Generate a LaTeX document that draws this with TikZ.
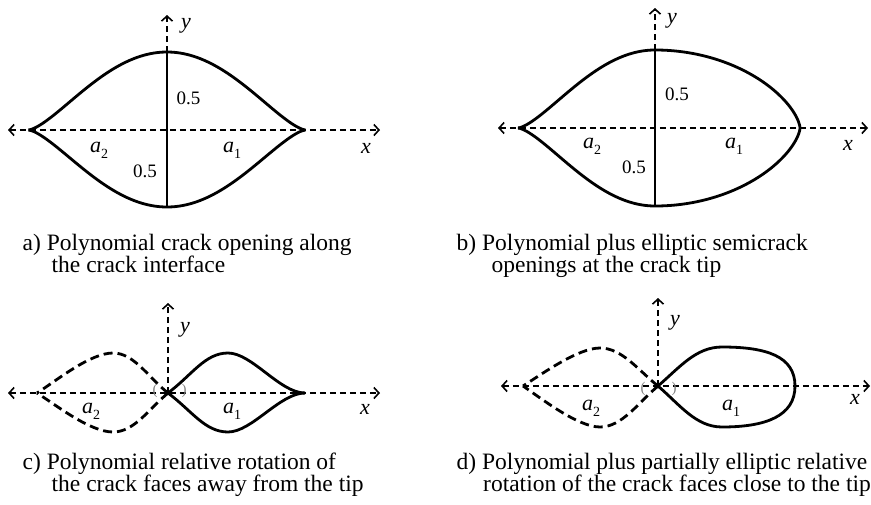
\documentclass[tikz,border=0pt]{standalone}
\usepackage{fontspec}
\setmainfont{Liberation Serif}
\usetikzlibrary{arrows.meta}
\newcommand\lblsub[2]{\textit{#1}\raisebox{-0.28em}{\fontsize{14}{14}\selectfont #2}}
\tikzset{
  axis/.style={line width=1.6pt, dash pattern=on 6.5pt off 3.5pt},
  barb/.tip={Straight Barb[length=5pt,width=11pt]},
  crack/.style={line width=2.8pt},
  crackd/.style={line width=2.8pt, dash pattern=on 9pt off 5pt},
  lbl/.style={inner sep=0pt, anchor=base west, font=\fontsize{22}{22}\selectfont},
  num/.style={inner sep=0pt, anchor=base west, font=\fontsize{19}{19}\selectfont},
  captxt/.style={inner sep=0pt, anchor=base west, font=\fontsize{23.5}{23.5}\selectfont},
  paren/.style={inner sep=0pt, text=gray, font=\fontsize{15}{15}\selectfont}
}
\begin{document}
\begin{tikzpicture}[x=1pt,y=-1pt]
\useasboundingbox (0,0) rectangle (871,504);

% ================= panel a =================
\coordinate (aL) at (8,130);
\coordinate (aR) at (380,130);
\coordinate (aTop) at (167,52);
\coordinate (aBot) at (167,207);
\coordinate (aYtip) at (167,15);
\draw[axis, barb-barb] (aL) -- (aR);
\draw[axis, -barb] (aTop) -- (aYtip);
\draw[crack] (aTop) -- (aBot);
\draw[crack] plot[domain=-1:1,samples=101,smooth] ({167+138.5*\x},{130-78*(1-\x*\x)*sqrt(abs(1-\x*\x))});
\draw[crack] plot[domain=-1:1,samples=101,smooth] ({167+138.5*\x},{130+77*(1-\x*\x)*sqrt(abs(1-\x*\x))});
\node[lbl] (ay) at (181,28) {\textit{y}};
\node[num] (a05u) at (176.5,104) {0.5};
\node[num] (a05l) at (133,177) {0.5};
\node[lbl] (aa2) at (90,152) {\lblsub{a}{2}};
\node[lbl] (aa1) at (223,152) {\lblsub{a}{1}};
\node[lbl] (ax) at (361,153) {\textit{x}};
\node[captxt] (acap1) at (22.5,250) {a) Polynomial crack opening along};
\node[captxt] (acap2) at (51.5,272.5) {the crack interface};

% ================= panel b =================
\coordinate (bL) at (498,128);
\coordinate (bR) at (868,128);
\coordinate (bTop) at (655,50);
\coordinate (bBot) at (655,206);
\coordinate (bYtip) at (655,8);
\draw[axis, barb-barb] (bL) -- (bR);
\draw[axis, -barb] (bTop) -- (bYtip);
\draw[crack] (bTop) -- (bBot);
\draw[crack] plot[domain=-1:0,samples=61,smooth] ({655+137*\x},{128-78*(1-\x*\x)*sqrt(abs(1-\x*\x))});
\draw[crack] plot[domain=-1:0,samples=61,smooth] ({655+137*\x},{128+78*(1-\x*\x)*sqrt(abs(1-\x*\x))});
\draw[crack] plot[domain=0:180,samples=121,smooth] ({655+145*sin(\x)},{128-78*cos(\x)*pow(abs(cos(\x))+0.0001,0.3)});
\node[lbl] (by) at (667,23) {\textit{y}};
\node[num] (b05u) at (665,100) {0.5};
\node[num] (b05l) at (622,173) {0.5};
\node[lbl] (ba2) at (583,148) {\lblsub{a}{2}};
\node[lbl] (ba1) at (725,148) {\lblsub{a}{1}};
\node[lbl] (bx) at (843,150) {\textit{x}};
\node[captxt] (bcap1) at (456.5,250) {b) Polynomial plus elliptic semicrack};
\node[captxt] (bcap2) at (491.5,272.5) {openings at the crack tip};

% ================= panel c =================
\coordinate (cL) at (8,393);
\coordinate (cR) at (380,393);
\coordinate (cO) at (168,393);
\coordinate (cYtip) at (168,303);
\coordinate (cTipL) at (37,393);
\coordinate (cTipR) at (305,393);
\coordinate (cPu) at (228,353);
\coordinate (cPd) at (228,432);
\coordinate (cQu) at (113,353);
\coordinate (cQd) at (113,432);
\draw[axis, barb-barb] (cL) -- (cR);
\draw[axis, -barb] (cO) -- (cYtip);
\draw[crack] (cO) .. controls (192,375) and (205,353) .. (cPu)
  .. controls (252,353) and (280,393) .. (cTipR);
\draw[crack] (cO) .. controls (192,411) and (205,432) .. (cPd)
  .. controls (252,432) and (280,393) .. (cTipR);
\draw[crackd] (cO) .. controls (148,377) and (134,353) .. (cQu)
  .. controls (90,353) and (56,381) .. (cTipL);
\draw[crackd] (cO) .. controls (148,410) and (134,432) .. (cQd)
  .. controls (90,432) and (56,405) .. (cTipL);
\node[paren] (cpl) at (155,391) {(};
\node[paren] (cpr) at (184,391) {)};
\node[lbl] (cy) at (180,332) {\textit{y}};
\node[lbl] (ca2) at (82,413) {\lblsub{a}{2}};
\node[lbl] (ca1) at (223,413) {\lblsub{a}{1}};
\node[lbl] (cx) at (360,414) {\textit{x}};
\node[captxt] (ccap1) at (22.5,469) {c) Polynomial relative rotation of};
\node[captxt] (ccap2) at (51.5,491.5) {the crack faces away from the tip};

% ================= panel d =================
\coordinate (dL) at (501,386);
\coordinate (dR) at (870,386);
\coordinate (dO) at (658,386);
\coordinate (dYtip) at (658,298);
\coordinate (dTipL) at (523,386);
\coordinate (dE) at (795,386);
\coordinate (dPu) at (722,347);
\coordinate (dPd) at (722,427);
\coordinate (dQu) at (600,348);
\coordinate (dQd) at (600,427);
\draw[axis, barb-barb] (dL) -- (dR);
\draw[axis, -barb] (dO) -- (dYtip);
\draw[crack] (dO) .. controls (680,367) and (696,347) .. (dPu)
  .. controls (766,347) and (795,356) .. (dE);
\draw[crack] (dO) .. controls (680,405) and (696,427) .. (dPd)
  .. controls (766,427) and (795,416) .. (dE);
\draw[crackd] (dO) .. controls (638,370) and (622,348) .. (dQu)
  .. controls (578,348) and (542,374) .. (dTipL);
\draw[crackd] (dO) .. controls (638,403) and (622,427) .. (dQd)
  .. controls (578,427) and (542,399) .. (dTipL);
\node[paren] (dpl) at (643,389) {(};
\node[paren] (dpr) at (674,389) {)};
\node[lbl] (dy) at (670,325) {\textit{y}};
\node[lbl] (da2) at (582,410) {\lblsub{a}{2}};
\node[lbl] (da1) at (722,410) {\lblsub{a}{1}};
\node[lbl] (dx) at (850,404) {\textit{x}};
\node[captxt] (dcap1) at (456.5,469) {d) Polynomial plus partially elliptic relative};
\node[captxt] (dcap2) at (483,491.5) {rotation of the crack faces close to the tip};
\end{tikzpicture}
\end{document}
